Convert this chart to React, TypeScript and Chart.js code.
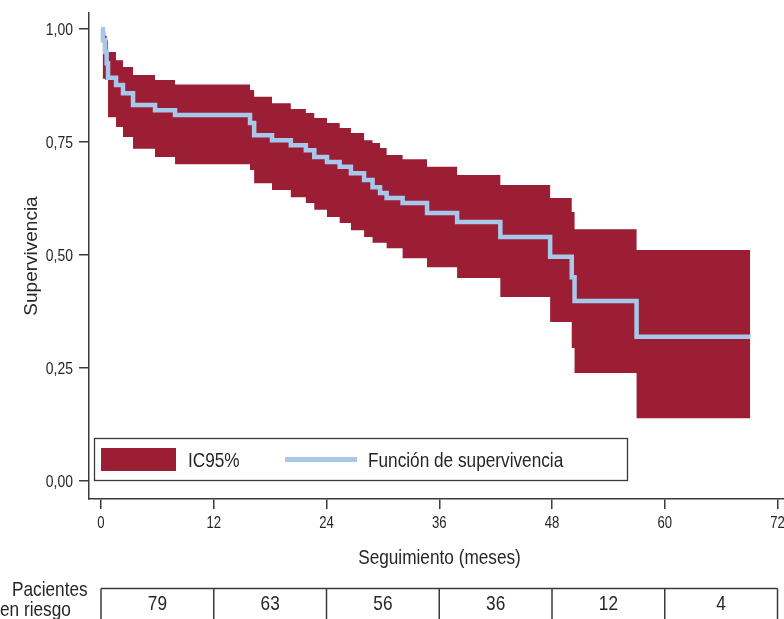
import React, { useEffect, useRef } from 'react';
import { Chart, registerables } from 'chart.js';

Chart.register(...registerables);

// Kaplan-Meier step times (months) and values
const months = [0, 0.2, 0.45, 0.6, 0.75, 1.6, 2.34, 3.41, 5.75, 7.88, 15.86, 16.3, 18.2, 20.2, 21.8, 22.7, 24.05, 25.4, 26.6, 28.0, 28.9, 29.7, 30.4, 32.1, 34.7, 37.9, 42.5, 47.8, 50.1, 50.4, 57.0, 69.1];
const survival = [1, 0.975, 0.949, 0.924, 0.892, 0.876, 0.858, 0.832, 0.82, 0.81, 0.792, 0.765, 0.754, 0.743, 0.732, 0.717, 0.706, 0.695, 0.681, 0.666, 0.65, 0.637, 0.626, 0.615, 0.593, 0.573, 0.54, 0.496, 0.451, 0.398, 0.319, 0.319];
const upperCI = [1, 0.995, 0.985, 0.975, 0.949, 0.931, 0.916, 0.898, 0.887, 0.877, 0.865, 0.85, 0.836, 0.823, 0.814, 0.803, 0.792, 0.781, 0.77, 0.754, 0.748, 0.737, 0.721, 0.712, 0.695, 0.677, 0.655, 0.626, 0.595, 0.557, 0.511, 0.511];
const lowerCI = [1, 0.89, 0.887, 0.887, 0.805, 0.783, 0.761, 0.735, 0.717, 0.701, 0.688, 0.659, 0.644, 0.628, 0.615, 0.6, 0.584, 0.571, 0.555, 0.54, 0.527, 0.527, 0.515, 0.493, 0.473, 0.449, 0.407, 0.352, 0.294, 0.239, 0.139, 0.139];

const xTickValues = [0, 12, 24, 36, 48, 60, 72];
const yTickValues = [0, 0.25, 0.5, 0.75, 1];
const atRisk = [79, 63, 56, 36, 12, 4];
const legendLabels = ['IC95%', 'Función de supervivencia'];
const atRiskLabel = ['Pacientes', 'en riesgo'];
const xTitle = 'Seguimiento (meses)';
const yTitle = 'Supervivencia';

const RED = '#9b1e34';
const BLUE = '#a8c8eb';
const AXIS = '#3a3a3a';
const TEXT = '#262626';
const FONT = "'Liberation Sans', Arial, sans-serif";
const CONDENSE = 0.82;

function drawText(
  ctx: CanvasRenderingContext2D,
  text: string,
  x: number,
  y: number,
  size: number,
  align: CanvasTextAlign,
  sx: number = CONDENSE,
  rotate: number = 0
) {
  ctx.save();
  ctx.font = `${size}px ${FONT}`;
  ctx.fillStyle = TEXT;
  ctx.textAlign = align;
  ctx.textBaseline = 'alphabetic';
  ctx.translate(x, y);
  if (rotate) ctx.rotate(rotate);
  ctx.scale(sx, 1);
  ctx.fillText(text, 0, 0);
  ctx.restore();
}

export default function App() {
  const ref = useRef<HTMLCanvasElement>(null);

  useEffect(() => {
    document.body.style.margin = '0';
    const canvas = ref.current!;
    const pts = (arr: number[]) => months.map((m, i) => ({ x: m, y: arr[i] }));

    const overlay = {
      id: 'overlay',
      afterDraw(chart: any) {
        const ctx = chart.ctx as CanvasRenderingContext2D;
        const xScale = chart.scales.x;
        const yScale = chart.scales.y;
        const xs = xTickValues.map((v) => xScale.getPixelForValue(v));
        ctx.save();

        // tick labels
        xTickValues.forEach((v, i) => drawText(ctx, String(v), xs[i], 528, 16, 'center'));
        yTickValues.forEach((v) =>
          drawText(ctx, v.toFixed(2).replace('.', ','), 73, yScale.getPixelForValue(v) + 6, 17, 'right')
        );

        // axis titles
        drawText(ctx, xTitle, (xScale.left + xScale.right) / 2 + 3, 564, 21, 'center');
        drawText(ctx, yTitle, 37, (yScale.top + yScale.bottom) / 2, 19, 'center', 1, -Math.PI / 2);

        // legend box
        ctx.fillStyle = '#ffffff';
        ctx.fillRect(94.5, 438.5, 533, 42);
        ctx.strokeStyle = AXIS;
        ctx.lineWidth = 1.3;
        ctx.strokeRect(94.5, 438.5, 533, 42);
        ctx.fillStyle = RED;
        ctx.fillRect(101, 448, 75, 23);
        ctx.strokeStyle = BLUE;
        ctx.lineWidth = 5;
        ctx.beginPath();
        ctx.moveTo(285, 459.5);
        ctx.lineTo(357, 459.5);
        ctx.stroke();
        drawText(ctx, legendLabels[0], 188, 466.5, 21, 'left');
        drawText(ctx, legendLabels[1], 368, 466.5, 21, 'left');

        // at-risk table
        const top = 588.5;
        ctx.strokeStyle = AXIS;
        ctx.lineWidth = 1.5;
        ctx.beginPath();
        ctx.moveTo(xs[0], top);
        ctx.lineTo(xs[xs.length - 1], top);
        xs.forEach((px) => {
          ctx.moveTo(px, top);
          ctx.lineTo(px, 640);
        });
        ctx.stroke();
        atRisk.forEach((n, i) => drawText(ctx, String(n), (xs[i] + xs[i + 1]) / 2, 610, 21, 'center'));
        drawText(ctx, atRiskLabel[0], 12, 596, 21, 'left');
        drawText(ctx, atRiskLabel[1], 0, 616, 21, 'left');
        ctx.restore();
      },
    };

    const chart = new Chart(canvas, {
      type: 'line',
      data: {
        datasets: [
          {
            label: legendLabels[1],
            data: pts(survival),
            stepped: 'before',
            borderColor: BLUE,
            borderWidth: 4.5,
            pointRadius: 0,
            fill: false,
            order: 0,
          },
          {
            label: 'upper',
            data: pts(upperCI),
            stepped: 'before',
            borderColor: 'rgba(0,0,0,0)',
            borderWidth: 0,
            backgroundColor: RED,
            pointRadius: 0,
            fill: '+1',
            order: 1,
          },
          {
            label: 'lower',
            data: pts(lowerCI),
            stepped: 'before',
            borderColor: 'rgba(0,0,0,0)',
            borderWidth: 0,
            pointRadius: 0,
            fill: false,
            order: 2,
          },
        ] as any,
      },
      options: {
        responsive: false,
        animation: false,
        layout: { padding: { top: 13, left: 0, right: 0, bottom: 0 } },
        plugins: { legend: { display: false }, tooltip: { enabled: false } },
        scales: {
          x: {
            type: 'linear',
            min: -1.277,
            max: 72.69,
            afterBuildTicks: (s: any) => {
              s.ticks = xTickValues.map((v) => ({ value: v }));
            },
            afterFit: (s: any) => {
              s.height = 120;
              s.paddingLeft = 0;
              s.paddingRight = 0;
            },
            grid: { drawOnChartArea: false, drawTicks: true, tickLength: 10, color: AXIS, lineWidth: 1.5 },
            border: { display: true, color: AXIS, width: 1.5 },
            ticks: { display: false, autoSkip: false },
            title: { display: false },
          },
          y: {
            type: 'linear',
            min: -0.0398,
            max: 1.0354,
            afterBuildTicks: (s: any) => {
              s.ticks = yTickValues.map((v) => ({ value: v }));
            },
            afterFit: (s: any) => {
              s.width = 89;
              s.paddingTop = 0;
              s.paddingBottom = 0;
            },
            grid: { drawOnChartArea: false, drawTicks: true, tickLength: 10, color: AXIS, lineWidth: 1.5 },
            border: { display: true, color: AXIS, width: 1.5 },
            ticks: { display: false },
            title: { display: false },
          },
        },
      } as any,
      plugins: [overlay],
    });

    return () => chart.destroy();
  }, []);

  return <canvas ref={ref} width={784} height={619} style={{ display: 'block' }} />;
}
